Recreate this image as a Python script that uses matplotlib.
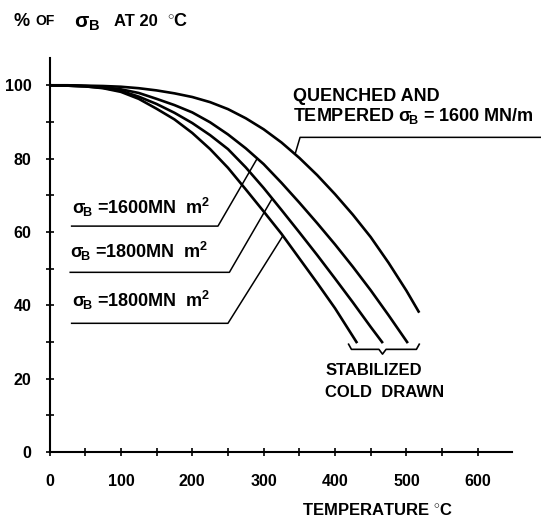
import numpy as np
import matplotlib
matplotlib.use("Agg")
from matplotlib import pyplot as plt
from matplotlib.ticker import MultipleLocator

plt.rcParams['font.family'] = ['Liberation Sans', 'DejaVu Sans']
plt.rcParams['font.weight'] = 'bold'
plt.rcParams['mathtext.fontset'] = 'custom'
plt.rcParams['mathtext.rm'] = 'Liberation Sans:bold'
plt.rcParams['mathtext.it'] = 'Liberation Sans:bold'
plt.rcParams['mathtext.bf'] = 'Liberation Sans:bold'

# curves (temperature in C, % of strength at 20 C)
# cold drawn, sigma_B = 1800 (lowest)
temp_a = [0, 25, 50, 75, 100, 125, 150, 175, 200, 225, 250, 275, 300, 325, 350, 375, 400, 431]
pct_a = [100, 99.9, 99.7, 99.2, 98.2, 96.3, 93.6, 90.7, 87.0, 82.6, 77.5, 71.6, 65.6, 59.5,
         52.8, 46.1, 39.2, 29.7]
# cold drawn, sigma_B = 1800
temp_b = [0, 25, 50, 75, 100, 125, 150, 175, 200, 225, 250, 275, 300, 325, 350, 375, 400, 425, 450, 467]
pct_b = [100, 99.9, 99.7, 99.3, 98.5, 96.9, 94.9, 92.5, 89.7, 86.4, 82.6, 77.6, 72.0, 66.0,
         59.9, 53.7, 47.3, 40.8, 34.1, 29.7]
# cold drawn, sigma_B = 1600
temp_c = [0, 25, 50, 75, 100, 125, 150, 175, 200, 225, 250, 275, 300, 325, 350, 375, 400, 425, 450, 475, 502]
pct_c = [100, 99.9, 99.8, 99.5, 98.9, 97.9, 96.3, 94.6, 92.6, 89.9, 86.6, 82.8, 78.5, 73.4,
         68.0, 62.4, 56.6, 50.5, 44.1, 37.3, 29.7]
# quenched and tempered, sigma_B = 1600
temp_d = [0, 25, 50, 75, 100, 125, 150, 175, 200, 225, 250, 275, 300, 325, 350, 375, 400, 425, 450, 475, 500, 518]
pct_d = [100, 100, 99.9, 99.8, 99.6, 99.2, 98.6, 97.8, 96.8, 95.4, 93.5, 91.0, 88.0, 84.4,
         80.2, 75.5, 70.3, 64.7, 58.6, 51.6, 44.0, 38.0]

y_ticks = [0, 20, 40, 60, 80, 100]
x_ticks = [0, 100, 200, 300, 400, 500, 600]

fig = plt.figure(figsize=(5.41, 5.19), dpi=100)
ax = fig.add_axes([0.0915, 0.129, 0.855, 0.759])

lw = 1.9
for t, p in [(temp_a, pct_a), (temp_b, pct_b), (temp_c, pct_c), (temp_d, pct_d)]:
    ax.plot(t, p, color='black', lw=lw, solid_capstyle='butt', solid_joinstyle='round')

ax.set_xlim(0, 648)
ax.set_ylim(0, 107.4)
for s in ['top', 'right']:
    ax.spines[s].set_visible(False)
for s in ['left', 'bottom']:
    ax.spines[s].set_linewidth(1.5)

ax.set_xticks(x_ticks)
ax.set_yticks(y_ticks)
ax.xaxis.set_minor_locator(MultipleLocator(50))
ax.yaxis.set_minor_locator(MultipleLocator(10))
ax.tick_params(which='both', direction='inout', length=6, width=1.2, color='black')
ax.tick_params(axis='x', pad=13, labelsize=11.5)
ax.tick_params(axis='y', pad=10, labelsize=11.5)

lab_kw = dict(fontsize=13, ha='left', va='center')
leader_lw = 1.1


def leader(x0, x1, y_line, temps, pcts, x_end):
    y_end = np.interp(x_end, temps, pcts)
    ax.plot([x0, x1, x_end], [y_line, y_line, y_end], color='black', lw=leader_lw)


ax.text(31, 66.7, r'$\sigma_{\!\rm B}$ =1600MN  m$^2$', **lab_kw)
leader(31, 236, 61.6, temp_c, pct_c, 291)

ax.text(29, 54.7, r'$\sigma_{\!\rm B}$ =1800MN  m$^2$', **lab_kw)
leader(29, 252, 49.0, temp_b, pct_b, 312)

ax.text(31, 41.4, r'$\sigma_{\!\rm B}$ =1800MN  m$^2$', **lab_kw)
leader(31, 250, 35.1, temp_a, pct_a, 327)

ax.text(341, 97.0, 'QUENCHED AND', **lab_kw)
ax.text(341, 91.6, r'TEMPERED $\sigma_{\!\rm B}$ = 1600 MN/m', clip_on=False, **lab_kw)
y_q = np.interp(344, temp_d, pct_d)
ax.plot([344, 351, 700], [y_q, 85.8, 85.8], color='black', lw=leader_lw, clip_on=False)

# brace under the cold drawn curve ends
xa, xc = temp_a[-1], temp_c[-1]
xm = (temp_a[-1] + temp_c[-1]) / 2
yb = pct_a[-1]
ax.plot([xa - 12, xa - 8, xm - 5, xm, xm + 5, xc + 12, xc + 16],
        [yb - 0.3, yb - 1.7, yb - 1.7, yb - 3.0, yb - 1.7, yb - 1.7, yb - 0.3],
        color='black', lw=1.2)

ax.text(386, 22.3, 'STABILIZED', fontsize=12, ha='left', va='center')
ax.text(386, 16.3, 'COLD  DRAWN', fontsize=12, ha='left', va='center')

fig.text(302 / 541, 1 - 510 / 519, 'TEMPERATURE $^{\\circ}$C', fontsize=12, ha='left', va='center')

# y axis title, pieced together to keep the wide spacing
ty = 1 - 21 / 519
fig.text(14 / 541, ty, '%', fontsize=13, ha='left', va='center')
fig.text(35 / 541, ty, 'OF', fontsize=10, ha='left', va='center')
fig.text(74 / 541, ty - 0.004, r'$\sigma_{\rm B}$', fontsize=15, ha='left', va='center')
fig.text(114 / 541, ty, 'AT 20', fontsize=12, ha='left', va='center')
fig.text(167 / 541, ty, r'$^{\circ}$C', fontsize=13, ha='left', va='center')

fig.savefig('out.png', dpi=100)
